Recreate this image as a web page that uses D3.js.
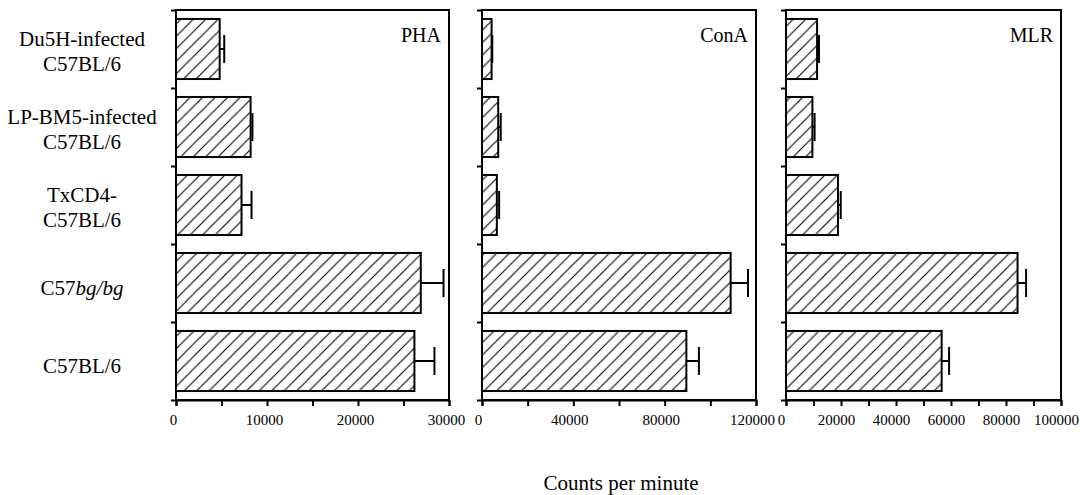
<!DOCTYPE html>
<html>
<head>
<meta charset="utf-8">
<script src="https://cdn.jsdelivr.net/npm/d3@7"></script>
<style>
  body { margin: 0; background: #fff; }
  svg text { font-family: "Liberation Serif", "Times New Roman", serif; fill: #000; }
</style>
</head>
<body>
<div id="chart"></div>
<script>
// grups (de dalt a baix)
const groups = ["Du5H-infected C57BL/6", "LP-BM5-infected C57BL/6", "TxCD4- C57BL/6", "C57bg/bg", "C57BL/6"];

// valors per panell (cpm) i errors
const phaValues = [4800, 8200, 7200, 26900, 26200];
const phaErrors = [500, 200, 1100, 2500, 2200];
const conaValues = [4200, 7100, 6500, 108900, 89500];
const conaErrors = [300, 1100, 1000, 7600, 5500];
const mlrValues = [11300, 9600, 18900, 84200, 56600];
const mlrErrors = [700, 800, 1000, 3100, 2700];

// ticks de cada eix
const phaTicks = [0, 5000, 10000, 15000, 20000, 25000, 30000];
const phaLabels = [0, 10000, 20000, 30000];
const conaTicks = [0, 20000, 40000, 60000, 80000, 100000, 120000];
const conaLabels = [0, 40000, 80000, 120000];
const mlrTicks = [0, 10000, 20000, 30000, 40000, 50000, 60000, 70000, 80000, 90000, 100000];
const mlrLabels = [0, 20000, 40000, 60000, 80000, 100000];

const panels = [
    {name: "PHA", values: phaValues, errors: phaErrors, max: 30000, ticks: phaTicks, labels: phaLabels, x0: 176, x1: 449, dx: -3},
    {name: "ConA", values: conaValues, errors: conaErrors, max: 120000, ticks: conaTicks, labels: conaLabels, x0: 482, x1: 756, dx: -4},
    {name: "MLR", values: mlrValues, errors: mlrErrors, max: 100000, ticks: mlrTicks, labels: mlrLabels, x0: 786, x1: 1061, dx: -5}
];

const W = 1080, H = 495;
const plotTop = 10, plotBottom = 400;

const svg = d3.select("#chart")
    .append("svg")
        .attr("width", W)
        .attr("height", H);

// patró de ratlles
const pat = svg.append("defs").append("pattern")
    .attr("id", "hatch")
    .attr("patternUnits", "userSpaceOnUse")
    .attr("width", 12.5)
    .attr("height", 12.5);
pat.append("rect").attr("width", 12.5).attr("height", 12.5).attr("fill", "#fff");
pat.append("path")
    .attr("d", "M0,12.5 L12.5,0 M-3,3 L3,-3 M9.5,15.5 L15.5,9.5")
    .attr("stroke", "#000")
    .attr("stroke-width", 1.1);

// escala Y comuna
const y = d3.scaleBand()
    .domain(groups)
    .range([plotTop, plotBottom])
    .paddingInner(0.23)
    .paddingOuter(0.115);

const yEdge = d3.scaleLinear()
    .domain([0, groups.length])
    .range([plotTop, plotBottom]);

panels.forEach(function(p) {
    const x = d3.scaleLinear()
        .domain([0, p.max])
        .range([p.x0, p.x1]);

    const g = svg.append("g");

    // marc
    g.append("rect")
        .attr("x", p.x0)
        .attr("y", plotTop)
        .attr("width", p.x1 - p.x0)
        .attr("height", plotBottom - plotTop)
        .attr("fill", "none")
        .attr("stroke", "#000")
        .attr("stroke-width", 2);

    // eix Y (només ticks)
    g.append("g")
        .attr("transform", `translate(${p.x0},0)`)
        .call(d3.axisLeft(yEdge).ticks(groups.length).tickSize(5).tickFormat(""))
        .call(s => s.select(".domain").remove())
        .selectAll("line").attr("stroke-width", 2);

    // eix X
    const ax = g.append("g")
        .attr("transform", `translate(0,${plotBottom})`)
        .call(d3.axisBottom(x)
            .tickValues(p.ticks)
            .tickSize(6)
            .tickPadding(8)
            .tickFormat(d => p.labels.includes(d) ? d : ""));
    ax.select(".domain").attr("stroke-width", 2);
    ax.selectAll("line").attr("stroke-width", 2);
    ax.selectAll("text")
        .attr("dx", p.dx)
        .style("font-size", "15px")
        .style("font-family", "'Liberation Serif', serif");

    // barres
    g.selectAll(".bar")
        .data(p.values)
        .enter()
        .append("rect")
            .attr("class", "bar")
            .attr("x", x(0))
            .attr("y", (d, i) => y(groups[i]))
            .attr("width", d => x(d) - x(0))
            .attr("height", y.bandwidth())
            .attr("fill", "url(#hatch)")
            .attr("stroke", "#000")
            .attr("stroke-width", 2);

    // barres d'error
    const err = g.selectAll(".err")
        .data(p.values)
        .enter()
        .append("g")
            .attr("class", "err");
    err.append("line")
        .attr("x1", d => x(d))
        .attr("x2", (d, i) => x(d + p.errors[i]))
        .attr("y1", (d, i) => y(groups[i]) + y.bandwidth() / 2)
        .attr("y2", (d, i) => y(groups[i]) + y.bandwidth() / 2)
        .attr("stroke", "#000")
        .attr("stroke-width", 2);
    err.append("line")
        .attr("x1", (d, i) => x(d + p.errors[i]))
        .attr("x2", (d, i) => x(d + p.errors[i]))
        .attr("y1", (d, i) => y(groups[i]) + y.bandwidth() / 2 - 14)
        .attr("y2", (d, i) => y(groups[i]) + y.bandwidth() / 2 + 14)
        .attr("stroke", "#000")
        .attr("stroke-width", 2);

    // títol del panell
    g.append("text")
        .attr("x", p.x1 - 8)
        .attr("y", 42)
        .attr("text-anchor", "end")
        .style("font-size", "20px")
        .text(p.name);
});

// etiquetes dels grups
const labelG = svg.append("g");
groups.forEach(function(name, i) {
    const cy = y(name) + y.bandwidth() / 2;
    const t = labelG.append("text")
        .attr("text-anchor", "middle")
        .style("font-size", "21px");
    if (name === "C57bg/bg") {
        t.attr("x", 82).attr("y", cy + 12);
        t.append("tspan").text("C57");
        t.append("tspan").style("font-style", "italic").text("bg/bg");
    } else if (name === "C57BL/6") {
        t.attr("x", 82).attr("y", cy + 12).text(name);
    } else {
        const parts = name === "TxCD4- C57BL/6" ? ["TxCD4-", "C57BL/6"] : name.split(" ");
        t.append("tspan").attr("x", 82).attr("y", cy - 3).text(parts[0]);
        t.append("tspan").attr("x", 82).attr("y", cy + 22).text(parts[1]);
    }
});

// títol eix X
svg.append("text")
    .attr("x", 621)
    .attr("y", 490)
    .attr("text-anchor", "middle")
    .style("font-size", "21px")
    .text("Counts per minute");
</script>
</body>
</html>
